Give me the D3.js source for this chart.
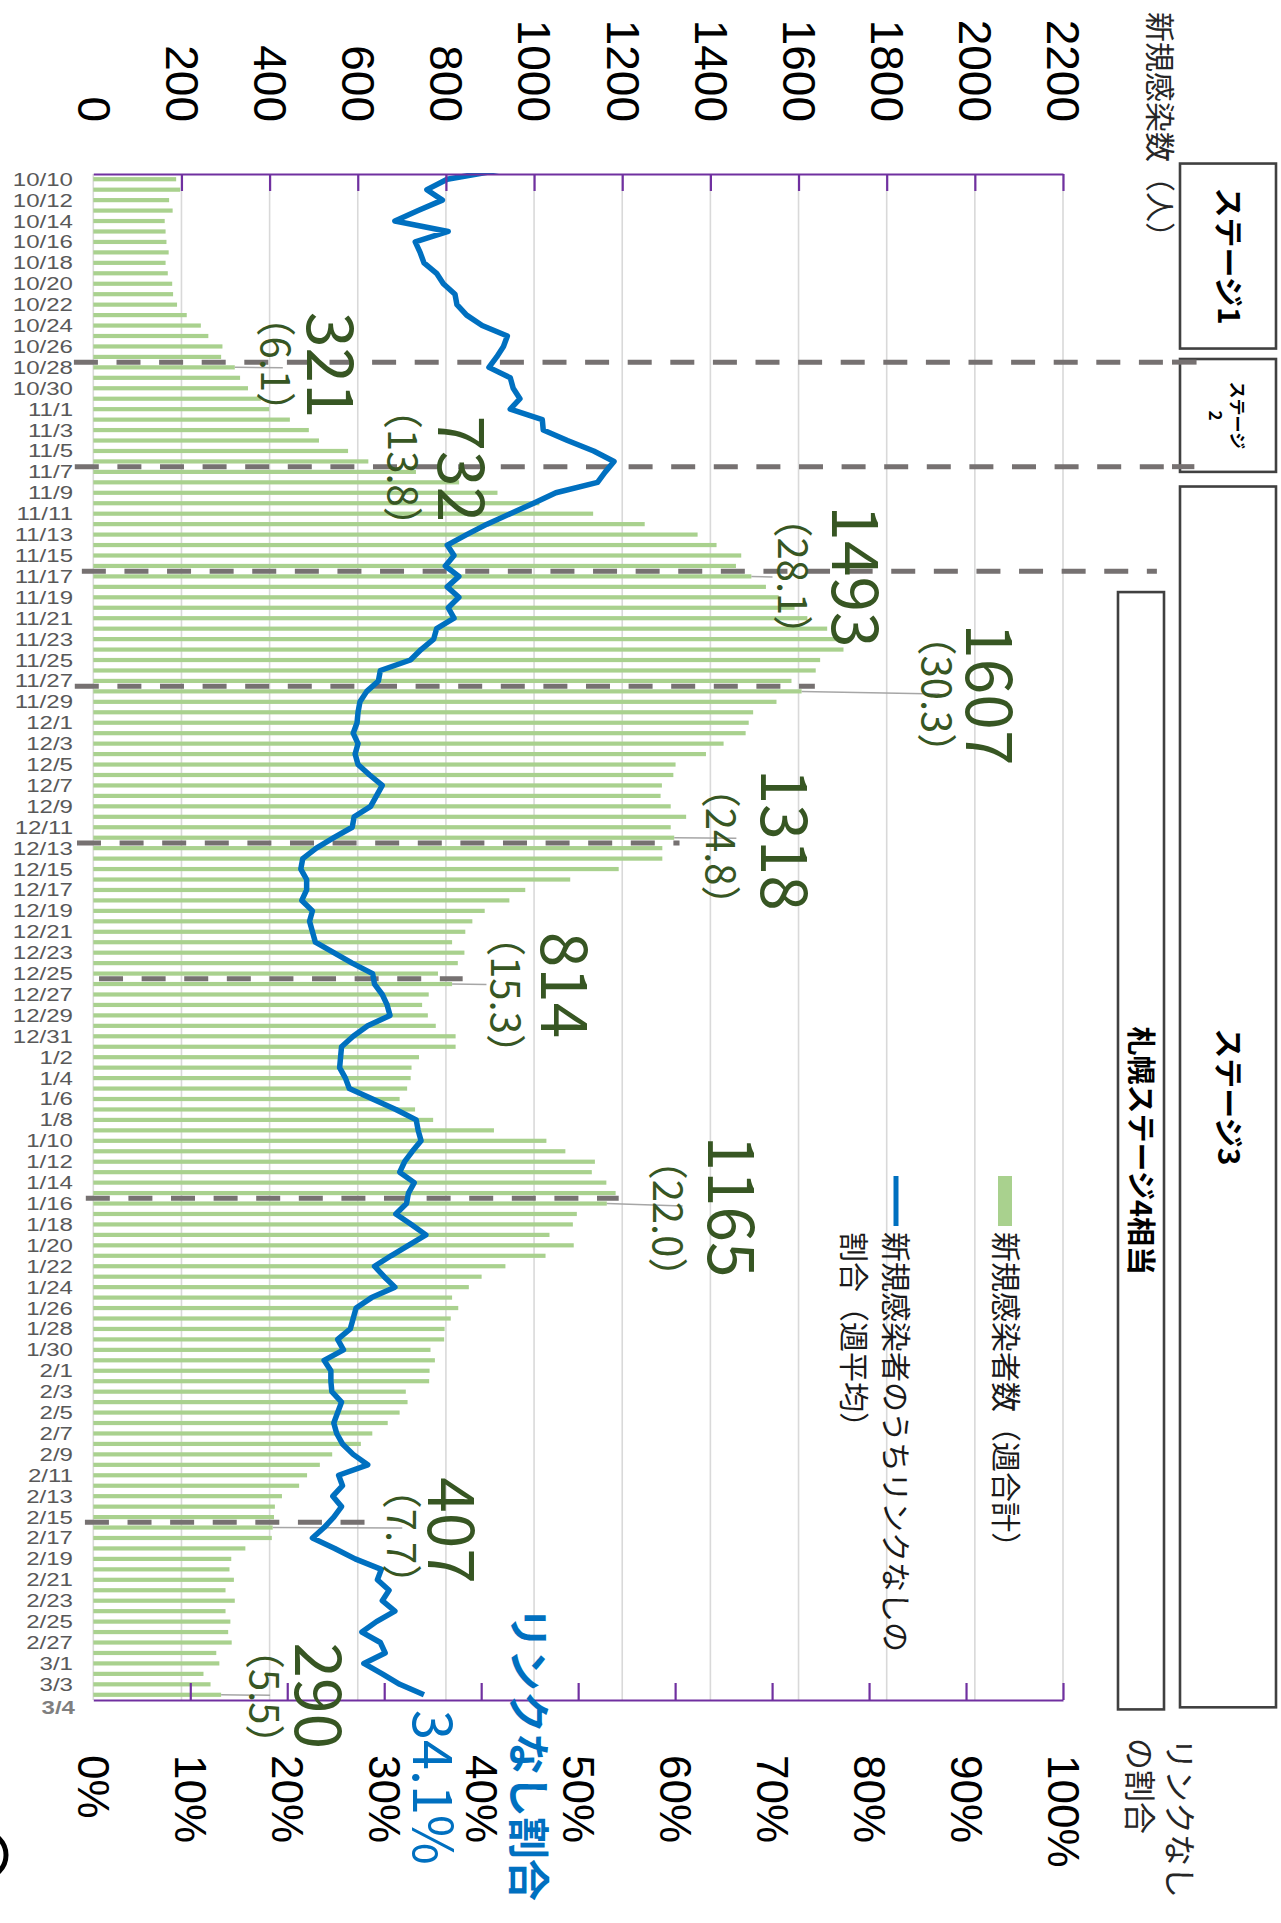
<!DOCTYPE html>
<html><head><meta charset="utf-8">
<script src="https://cdn.jsdelivr.net/npm/d3@7"></script>
<style>body{margin:0;background:#fff}svg{display:block}</style>
</head><body>
<svg id="c" width="1281" height="1923"></svg>
<script>
// ---------- DATA ----------
const monthSpans = [["10",10,31],["11",1,30],["12",1,31],["1",1,31],["2",1,28],["3",1,4]];
const categories = [];
monthSpans.forEach(([m,a,b]) => { for (let d=a; d<=b; d++) categories.push(m+"/"+d); });

// 新規感染者数（週合計）
const newCases = [
 188,197,172,180,162,164,166,171,164,169,179,181,190,212,244,261,293,290,321,333,351,380,
 399,446,489,512,578,624,732,830,917,1012,1134,1251,1371,1414,1470,1458,1493,1526,1555,1591,1620,1665,1693,1702,1649,1639,1584,1607,1550,1497,
 1487,1480,1430,1390,1321,1316,1290,1287,1310,1345,1310,1318,1291,1291,1192,1082,980,944,888,860,844,814,842,827,782,814,761,746,759,777,822,
 822,739,722,720,712,695,730,771,909,1028,1071,1138,1131,1164,1185,1165,1097,1088,1035,1090,1026,935,881,852,814,828,811,797,796,765,775,763,
 762,709,713,695,668,633,607,542,514,485,467,428,412,410,407,405,345,313,309,319,300,321,300,311,306,314,279,286,250,266,
 290
];
// 新規感染者のうちリンクなしの割合（週平均, %）
const linkNoneBefore = 42.7; // 10/9, only partly visible above the plot
const linkNoneRatio = [
 36.5,34.4,36.0,33.5,31.1,36.6,33.2,33.7,34.1,35.4,36.1,37.3,37.5,38.5,40.1,42.7,42.3,41.6,40.8,43.0,43.3,44.0,
 43.0,46.3,46.4,48.9,51.6,53.7,52.8,52.0,47.7,45.4,43.0,40.6,38.5,36.5,37.2,36.3,37.7,36.5,37.7,36.6,37.2,35.4,35.1,33.8,32.7,29.6,29.4,28.2,27.5,27.3,
 27.2,26.8,27.3,27.0,27.3,28.5,29.8,29.2,28.6,26.9,26.7,24.8,23.0,21.6,21.4,22.0,22.0,21.5,22.6,22.3,22.6,22.9,24.8,26.7,28.8,29.0,29.8,30.3,30.6,28.3,26.8,
 25.6,25.5,25.4,26.0,26.4,28.8,31.2,33.3,33.5,33.8,32.9,32.1,31.6,33.1,32.5,32.3,31.2,32.8,34.3,32.5,30.7,29.0,30.0,31.1,28.7,27.1,26.8,26.5,25.2,25.8,23.8,24.5,
 24.5,24.6,25.6,25.2,24.8,25.1,25.7,26.8,28.3,25.3,25.7,24.7,25.6,24.8,23.8,22.6,24.9,27.0,29.7,29.3,30.5,29.8,31.1,29.2,27.7,29.6,30.1,27.9,29.8,31.6,
 34.1
];
const countTicks = [0,200,400,600,800,1000,1200,1400,1600,1800,2000,2200];
const pctTicks = [0,10,20,30,40,50,60,70,80,90,100];

const stageLineDates = ["10/28","11/7","11/17","11/28","12/13","12/26","1/16","2/16"];
const annotDates  = ["10/28","11/7","11/17","11/28","12/12","12/26","1/16","2/16","3/4"];
const annotValues = ["321","732","1493","1607","1318","814","1165","407","290"];
const annotRatios = ["6.1","13.8","28.1","30.3","24.8","15.3","22.0","7.7","5.5"];
const lastRatioLabel = "34.1%";

const stageBoxes = [
  {name:"ステージ1", from:-1, to:16.7},
  {name:"ステージ2", from:17.7, to:28.5},
  {name:"ステージ3", from:29.9, to:146.7}
];
const sapporoBox = {name:"札幌ステージ4相当", from:40, to:146.9};

// ---------- LAYOUT ----------
const plot = {left:93.3, right:1063, top:174, bottom:1700};
const svg = d3.select("#c");
const green = "#A9D18E", blue = "#0070C0", purple = "#7030A0", dkgreen = "#375623", dashGray = "#767171";
const jp = "'Noto Sans CJK JP','Noto Sans CJK SC',sans-serif";
const lat = "'Liberation Sans',Arial,sans-serif";

const x = d3.scaleLinear().domain([0,2200]).range([plot.left, plot.right]);
const xp = d3.scaleLinear().domain([0,100]).range([plot.left, plot.right]);
const y = d3.scaleBand().domain(categories).range([plot.top, plot.bottom]).paddingInner(0).paddingOuter(0);
const bw = y.bandwidth();
const yc = c => y(c) + bw/2;

function rtext(g, px, py, str, o = {}) {
  return g.append("text")
    .attr("transform", `translate(${px},${py}) rotate(90)`)
    .attr("text-anchor", o.anchor || "middle")
    .attr("dy", o.dy || "0.35em")
    .attr("font-family", o.font || lat)
    .attr("font-size", o.size || 30)
    .attr("font-weight", o.weight || "normal")
    .attr("fill", o.fill || "#000")
    .text(str);
}

// gridlines
svg.append("g").selectAll("line").data(countTicks.slice(1)).join("line")
  .attr("x1", d => x(d)).attr("x2", d => x(d))
  .attr("y1", plot.top).attr("y2", plot.bottom)
  .attr("stroke", "#D9D9D9").attr("stroke-width", 1.6);
svg.append("line").attr("x1", x(0)).attr("x2", x(0)).attr("y1", plot.top).attr("y2", plot.bottom)
  .attr("stroke", "#D9D9D9").attr("stroke-width", 1.6);

// bars
const barH = 4.2;
svg.append("g").selectAll("rect").data(newCases).join("rect")
  .attr("x", x(0)).attr("y", (d,i) => yc(categories[i]) - barH/2)
  .attr("width", d => x(d) - x(0)).attr("height", barH)
  .attr("fill", green);

// stage dashed lines
const dashFrom = [-44,-42,-26,-42,-37,13,-17,-19];
const dashTo = [2503,2498,2413,1637,1330,838,1192,616];
svg.append("g").selectAll("line").data(stageLineDates).join("line")
  .attr("x1", (d,i) => x(dashFrom[i])).attr("x2", (d,i) => x(dashTo[i]))
  .attr("y1", d => y(d)).attr("y2", d => y(d))
  .attr("stroke", dashGray).attr("stroke-width", 5).attr("stroke-dasharray", "24,18.6");

// leader lines
const leaderTo = [430,null,1541,1920,1459,892,1337,701,401];
svg.append("g").selectAll("line").data(annotDates.filter((d,i) => leaderTo[i] !== null)).join("line")
  .each(function(d) {
    const i = annotDates.indexOf(d);
    const v = newCases[categories.indexOf(d)];
    d3.select(this).attr("x1", x(v)).attr("x2", x(leaderTo[i]))
      .attr("y1", yc(d)).attr("y2", yc(d) + (i===3||i===6 ? 2.5 : 0.5));
  })
  .attr("stroke", "#A6A6A6").attr("stroke-width", 1.5);

// line (clipped to plot area)
svg.append("clipPath").attr("id", "pc").append("rect")
  .attr("x", plot.left - 10).attr("y", plot.top - 1).attr("width", plot.right - plot.left + 20).attr("height", plot.bottom - plot.top + 10);
const linePts = [[xp(linkNoneBefore), yc(categories[0]) - bw]].concat(linkNoneRatio.map((v,i) => [xp(v), yc(categories[i])]));
svg.append("path").attr("clip-path", "url(#pc)")
  .attr("d", d3.line()(linePts))
  .attr("fill", "none").attr("stroke", blue).attr("stroke-width", 5.5).attr("stroke-linejoin", "round");

// top axis (counts)
const axTop = svg.append("g").attr("transform", `translate(0,${plot.top})`)
  .call(d3.axisTop(x).tickValues(countTicks).tickSizeInner(-17).tickSizeOuter(0).tickPadding(0).tickFormat(d3.format("d")));
axTop.select(".domain").attr("stroke", purple).attr("stroke-width", 2.2);
axTop.selectAll(".tick line").attr("stroke", purple).attr("stroke-width", 2.2).attr("opacity", d => d === 0 ? 0 : 1);
axTop.selectAll(".tick text").attr("y", null).attr("dy", "0.35em")
  .attr("transform", "translate(0,-52) rotate(90)").attr("text-anchor", "end")
  .attr("font-family", lat).attr("font-size", 46).attr("fill", "#000");

// bottom axis (%)
const axBot = svg.append("g").attr("transform", `translate(0,${plot.bottom})`)
  .call(d3.axisBottom(xp).tickValues(pctTicks).tickSizeInner(-17).tickSizeOuter(0).tickPadding(0).tickFormat(d => d + "%"));
axBot.select(".domain").attr("stroke", purple).attr("stroke-width", 2.2);
axBot.selectAll(".tick line").attr("stroke", purple).attr("stroke-width", 2.2).attr("opacity", d => d === 0 ? 0 : 1);
axBot.selectAll(".tick text").attr("y", null).attr("dy", "0.35em")
  .attr("transform", "translate(0,55) rotate(90)").attr("text-anchor", "start")
  .attr("font-family", lat).attr("font-size", 44).attr("fill", "#000");

// date labels (every other day, tightly stacked)
svg.append("g").selectAll("text").data(categories.filter((d,i) => i % 2 === 0)).join("text")
  .attr("transform", d => `translate(73,${yc(d)}) scale(1.3,1)`)
  .attr("dy", "0.35em")
  .attr("text-anchor", "end").attr("font-family", lat).attr("font-size", 18.5).attr("fill", "#595959")
  .text(d => d);
svg.append("text").attr("transform", `translate(75,${yc(categories[categories.length-1]) + 13}) scale(1.3,1)`).attr("dy", "0.35em")
  .attr("text-anchor", "end").attr("font-family", lat).attr("font-size", 18.5).attr("font-weight", "bold")
  .attr("fill", "#7F7F7F").text(categories[categories.length-1]);

// annotations
const numX = [537,834,1729,2033,1568,1067,1446,811,509];
const parX = [414,702,1586,1913,1423,936,1303,698,389];
const numDy = [-2,-3,0,3,2,1,3,3,1];
const parDy = [-3,-4,0,3,9,11,15,9,2];
const ag = svg.append("g");
annotDates.forEach((d,i) => {
  rtext(ag, x(numX[i]), yc(d) + numDy[i], annotValues[i], {font: jp, size: 64, fill: dkgreen, dy: "0.36em"});
  rtext(ag, x(parX[i]), yc(d) + parDy[i], "（" + annotRatios[i] + "）", {font: jp, size: 40, fill: dkgreen, dy: "0.36em"});
});

// last ratio callout
rtext(svg, 432, 1710, lastRatioLabel, {font: jp, size: 54, fill: blue, anchor: "start", dy: "0.36em"});
rtext(svg, 529, 1607, "リンクなし割合", {font: jp, size: 42, fill: blue, weight: "bold", anchor: "start", dy: "0.38em"});

// axis titles
rtext(svg, 1160, 12, "新規感染数（人）", {font: jp, size: 30, fill: "#262626", anchor: "start", dy: "0.38em"});
rtext(svg, 1180, 1738, "リンクなし", {font: jp, size: 32, fill: "#262626", anchor: "start", dy: "0.38em"});
rtext(svg, 1140, 1738, "の割合", {font: jp, size: 32, fill: "#262626", anchor: "start", dy: "0.38em"});

// legend
const lg = svg.append("g");
lg.append("rect").attr("x", 998).attr("y", 1176).attr("width", 14).attr("height", 50).attr("fill", green);
rtext(lg, 1006, 1232, "新規感染者数（週合計）", {font: jp, size: 30, anchor: "start", dy: "0.38em", fill: "#1a1a1a"});
lg.append("line").attr("x1", 896).attr("x2", 896).attr("y1", 1176).attr("y2", 1226).attr("stroke", blue).attr("stroke-width", 5);
rtext(lg, 896, 1232, "新規感染者のうちリンクなしの", {font: jp, size: 30, anchor: "start", dy: "0.38em", fill: "#1a1a1a"});
rtext(lg, 854, 1232, "割合（週平均）", {font: jp, size: 30, anchor: "start", dy: "0.38em", fill: "#1a1a1a"});

// stage boxes
const bg = svg.append("g");
stageBoxes.forEach((b,i) => {
  const y0 = plot.top + b.from * bw, y1 = plot.top + b.to * bw;
  bg.append("rect").attr("x", 1180).attr("y", y0).attr("width", 96).attr("height", y1 - y0)
    .attr("fill", "#fff").attr("stroke", "#404040").attr("stroke-width", 2.6);
  const cy = (y0 + y1) / 2;
  if (i === 1) {
    rtext(bg, 1237, cy, "ステージ", {font: jp, size: 17, weight: "bold", dy: "0.38em"});
    rtext(bg, 1215, cy, "2", {font: jp, size: 17, weight: "bold", dy: "0.38em"});
  } else {
    rtext(bg, 1229, cy, b.name, {font: jp, size: 30, weight: "bold", dy: "0.38em"});
  }
});
{
  const y0 = plot.top + sapporoBox.from * bw, y1 = plot.top + sapporoBox.to * bw;
  bg.append("rect").attr("x", 1118).attr("y", y0).attr("width", 46).attr("height", y1 - y0)
    .attr("fill", "#fff").attr("stroke", "#404040").attr("stroke-width", 2.6);
  rtext(bg, 1141, (y0 + y1) / 2, sapporoBox.name, {font: jp, size: 29, weight: "bold", dy: "0.38em"});
}
// the first two stage lines run onto the stage boxes' edge
svg.append("g").selectAll("line").data(stageLineDates.slice(0,2)).join("line")
  .attr("x1", 1172).attr("x2", (d,i) => x(dashTo[i]))
  .attr("y1", d => y(d)).attr("y2", d => y(d))
  .attr("stroke", dashGray).attr("stroke-width", 5);

// partial logo ring at bottom-left edge
svg.append("circle").attr("cx", -17).attr("cy", 1855).attr("r", 23)
  .attr("fill", "none").attr("stroke", "#000").attr("stroke-width", 5);
</script>
</body></html>
